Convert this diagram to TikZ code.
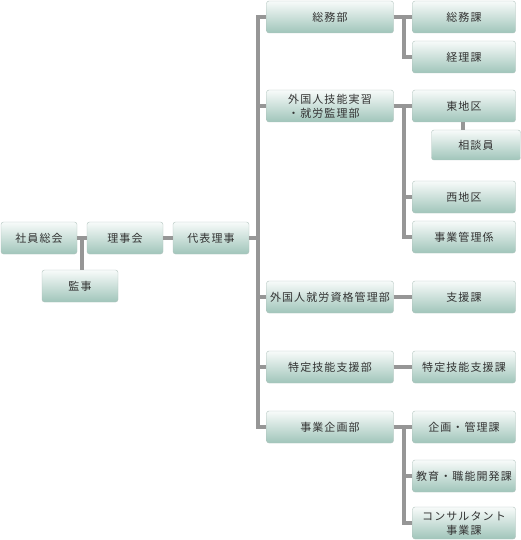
\documentclass[tikz,border=0pt]{standalone}
\usepackage{fontspec}
\setmainfont{Noto Sans CJK JP}[LetterSpace=10]
\usepackage{tikz}
\definecolor{boxtop}{RGB}{248,251,250}
\definecolor{boxbot}{RGB}{160,197,186}
\definecolor{boxline}{RGB}{176,194,188}
\definecolor{linkgray}{RGB}{150,150,150}
\definecolor{boxtext}{RGB}{51,51,51}
\tikzstyle{orgbox}=[rectangle,rounded corners=2.5pt,draw=boxline,
                    top color=boxtop,bottom color=boxbot,text=boxtext,
                    font=\fontsize{11}{14}\selectfont,
                    minimum height=32pt,inner sep=1pt,align=center]
\tikzstyle{unitbox}=[orgbox,minimum width=76pt]
\tikzstyle{deptbox}=[orgbox,minimum width=127pt]
\tikzstyle{secbox}=[orgbox,minimum width=103pt]
\tikzstyle{link}=[draw=linkgray,line width=4pt]

\begin{document}
\begin{tikzpicture}[x=1pt,y=-1pt]
    \useasboundingbox (0,0) rectangle (521,540);
    \node (sokai)  at ( 39,238) [unitbox]{社員総会};
    \node (rijikai) at (125,238) [unitbox]{理事会};
    \node (daihyo) at (211,238) [unitbox]{代表理事};
    \node (kanji)  at ( 80,286) [unitbox]{監事};
    \node (somubu)  at (330, 17) [deptbox]{総務部};
    \node (ginou)   at (330,106) [deptbox,align=left]{外国人技能実習\\・就労監理部};
    \node (shikaku) at (330,297) [deptbox]{外国人就労資格管理部};
    \node (tokutei) at (330,367) [deptbox]{特定技能支援部};
    \node (kikaku)  at (330,427) [deptbox]{事業企画部};
    \node (somuka)  at (464, 17) [secbox]{総務課};
    \node (keiri)   at (464, 57) [secbox]{経理課};
    \node (higashi) at (464,106) [secbox]{東地区};
    \node (sodan)   at (476,145) [secbox,minimum width=89pt,minimum height=30pt]{相談員};
    \node (nishi)   at (464,197) [secbox]{西地区};
    \node (jigyo)   at (464,237) [secbox]{事業管理係};
    \node (shien)   at (464,297) [secbox]{支援課};
    \node (tokka)   at (464,367) [secbox]{特定技能支援課};
    \node (kanri)   at (464,427) [secbox]{企画・管理課};
    \node (kyoiku)  at (464,476) [secbox]{教育・職能開発課};
    \node (consul)  at (464,523) [secbox]{コンサルタント\\事業課};
    \draw[link] (sokai) -- (rijikai) -- (daihyo);
    \coordinate (j1) at (82,238);
    \draw[link] (j1) -- (j1 |- kanji.north);
    \draw[link] (daihyo.east) -- ++(9,0) coordinate (trunk);
    \foreach \d in {somubu,ginou,shikaku,tokutei,kikaku}
      \draw[link] (trunk) |- (\d.west);
    \draw[link] (somubu.east) -- ++(10,0) coordinate (b1);
    \foreach \s in {somuka,keiri}
      \draw[link] (b1) |- (\s.west);
    \draw[link] (ginou.east) -- ++(10,0) coordinate (b2);
    \foreach \s in {higashi,nishi,jigyo}
      \draw[link] (b2) |- (\s.west);
    \draw[link] (sodan.north -| 463,0) -- (higashi.south -| 463,0);
    \draw[link] (shikaku) -- (shien);
    \draw[link] (tokutei) -- (tokka);
    \draw[link] (kikaku.east) -- ++(10,0) coordinate (b3);
    \foreach \s in {kanri,kyoiku,consul}
      \draw[link] (b3) |- (\s.west);
  \end{tikzpicture}
\end{document}
